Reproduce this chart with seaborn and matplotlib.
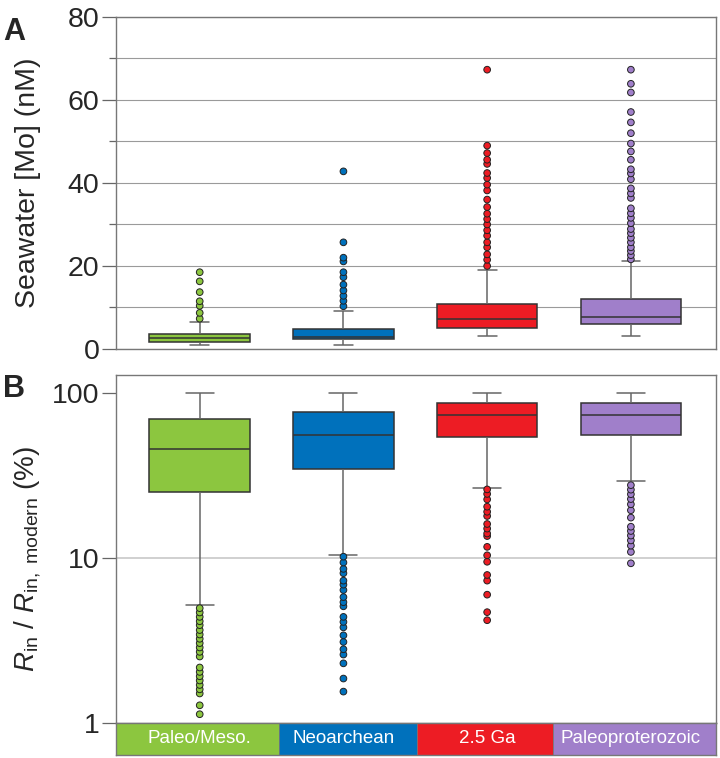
import pandas as pd
import seaborn as sns
import matplotlib.pyplot as plt
from matplotlib.ticker import MultipleLocator, FixedLocator, FuncFormatter, NullLocator

# groups and colours
groups = ["Paleo/Meso.", "Neoarchean", "2.5 Ga", "Paleoproterozoic"]
colors = ["#8cc63f", "#0071bc", "#ed1c24", "#a07fca"]

# --- Panel A: seawater [Mo] (nM), five-number summaries ---
mo_lo = [1.0, 1.0, 3.1, 3.1]
mo_q1 = [1.8, 2.3, 5.1, 6.1]
mo_med = [2.7, 3.0, 7.3, 7.8]
mo_q3 = [3.6, 4.9, 10.8, 12.1]
mo_hi = [6.6, 9.2, 19.1, 21.2]

mo_out_paleo = [7.3, 8.7, 10.4, 11.5, 13.7, 16.3, 18.5]
mo_out_neo = [10.3, 11.6, 12.8, 14.1, 15.5, 17.3, 18.5, 21.1, 22.0, 25.7, 42.8]
mo_out_25 = [20.0, 21.5, 22.8, 24.5, 25.7, 27.3, 28.6, 30.0, 31.3, 32.6, 34.2,
             36.0, 38.2, 39.6, 41.2, 42.4, 44.6, 45.6, 47.2, 49.0, 67.3]
mo_out_pp = [21.6, 22.6, 23.6, 24.5, 25.7, 26.8, 27.9, 28.9, 30.3, 31.6, 32.7,
             33.9, 36.4, 37.5, 38.7, 40.9, 42.3, 43.3, 45.6, 47.6, 49.5, 52.0,
             54.6, 57.1, 61.8, 63.9, 67.3]

# --- Panel B: R_in / R_in,modern (%) ---
rin_lo = [5.2, 10.5, 26.6, 29.2]
rin_q1 = [25.1, 34.7, 54.5, 55.8]
rin_med = [45.7, 56.1, 73.5, 73.5]
rin_q3 = [69.8, 77.3, 87.3, 87.3]
rin_hi = [101, 101, 101, 101]

rin_out_paleo = [1.13, 1.28, 1.51, 1.60, 1.70, 1.81, 1.92, 2.04, 2.17, 2.53, 2.70,
                 2.87, 3.05, 3.24, 3.44, 3.66, 3.92, 4.14, 4.40, 4.68, 4.97]
rin_out_neo = [1.55, 1.86, 2.3, 2.6, 2.8, 3.1, 3.4, 3.8, 4.1, 4.4, 5.1, 5.4,
               5.8, 6.4, 6.9, 7.3, 8.1, 8.6, 9.4, 10.2]
rin_out_25 = [4.2, 4.7, 6.0, 7.3, 7.9, 9.5, 10.4, 11.7, 13.6, 14.1, 15.1, 16.1,
              18.0, 19.1, 20.5, 22.7, 24.5, 26.1]
rin_out_pp = [9.3, 10.9, 11.9, 12.8, 13.7, 14.6, 15.5, 17.6, 19.5, 21.2, 22.8,
              24.4, 26.0, 27.7]


def box_frame(lo, q1, med, q3, hi):
    rows = []
    for g, vals in zip(groups, zip(lo, q1, med, q3, hi)):
        rows += [(g, v) for v in vals]
    return pd.DataFrame(rows, columns=["group", "value"])


def out_frame(outs):
    rows = []
    for g, vals in zip(groups, outs):
        rows += [(g, v) for v in vals]
    return pd.DataFrame(rows, columns=["group", "value"])


mo_box = box_frame(mo_lo, mo_q1, mo_med, mo_q3, mo_hi)
mo_out = out_frame([mo_out_paleo, mo_out_neo, mo_out_25, mo_out_pp])
rin_box = box_frame(rin_lo, rin_q1, rin_med, rin_q3, rin_hi)
rin_out = out_frame([rin_out_paleo, rin_out_neo, rin_out_25, rin_out_pp])

sns.set_style("white")
plt.rcParams["font.family"] = ["Liberation Sans", "DejaVu Sans"]
plt.rcParams["mathtext.fontset"] = "custom"
plt.rcParams["mathtext.rm"] = "Liberation Sans"
plt.rcParams["mathtext.it"] = "Liberation Sans:italic"

fig = plt.figure(figsize=(7.2, 7.58), dpi=100)
axA = fig.add_axes([0.161, 0.5396, 0.833, 0.438])
axB = fig.add_axes([0.161, 0.0462, 0.833, 0.4591])
axC = fig.add_axes([0.161, 0.004, 0.833, 0.0422])

xlim = (-0.583, 3.59)
box_kw = dict(x="group", y="value", hue="group", order=groups, hue_order=groups,
              palette=colors, saturation=1, width=0.7, whis=(0, 100),
              showfliers=False, linecolor="#333333", linewidth=1.1, legend=False,
              whiskerprops={"color": "#666666"}, capprops={"color": "#666666"})
pt_kw = dict(x="group", y="value", hue="group", order=groups, hue_order=groups,
             palette=colors, jitter=False, size=4.8, edgecolor="#222222",
             linewidth=0.7, legend=False, zorder=3)

# panel A
sns.boxplot(data=mo_box, ax=axA, capwidths=0.13, **box_kw)
sns.stripplot(data=mo_out, ax=axA, **pt_kw)
axA.set_ylim(0, 80)
axA.yaxis.set_major_locator(MultipleLocator(20))
axA.yaxis.set_minor_locator(FixedLocator([10, 30, 50, 70]))
axA.set_ylabel("Seawater [Mo] (nM)", fontsize=20.5)
axA.grid(axis="y", which="both", color="#9a9a9a", linewidth=0.8)
axA.set_axisbelow(True)

# panel B
sns.boxplot(data=rin_box, ax=axB, log_scale=True, capwidths=0.195, **box_kw)
sns.stripplot(data=rin_out, ax=axB, log_scale=True, **pt_kw)
axB.set_ylim(1, 129)
axB.yaxis.set_major_locator(FixedLocator([1, 10, 100]))
axB.yaxis.set_major_formatter(FuncFormatter(lambda v, p: f"{v:g}"))
axB.yaxis.set_minor_locator(NullLocator())
axB.axhline(10, color="#c8c8c8", linewidth=1.2, zorder=0)
axB.set_ylabel(r"$R_{\mathrm{in}}$ / $R_{\mathrm{in,\ modern}}$ (%)", fontsize=20)

for ax in (axA, axB):
    ax.set_xlim(xlim)
    ax.set_xticks([])
    ax.set_xlabel("")
    ax.tick_params(axis="y", which="major", direction="out", length=10, width=0.9,
                   color="#666666", labelsize=20.5, pad=2, left=True)
    ax.tick_params(axis="y", which="minor", direction="out", length=5, width=0.9,
                   color="#666666", left=True)
    for s in ax.spines.values():
        s.set_color("#777777")
        s.set_linewidth(1.0)
axA.yaxis.set_label_coords(-0.125, 0.5)
axB.yaxis.set_label_coords(-0.122, 0.47)

# category band
edges = [xlim[0], 0.55, 1.51, 2.46, xlim[1]]
for i, (g, c) in enumerate(zip(groups, colors)):
    axC.axvspan(edges[i], edges[i + 1], color=c, lw=0)
    axC.text(i, 0.5, g, color="white", ha="center", va="center", fontsize=13.5)
    if i > 0:
        axC.axvline(edges[i], color="#777777", lw=0.6)
axC.set_xlim(xlim)
axC.set_ylim(0, 1)
axC.set_xticks([])
axC.set_yticks([])
for s in axC.spines.values():
    s.set_color("#777777")
    s.set_linewidth(1.0)

fig.text(0.004, 0.9775, "A", fontsize=22, fontweight="bold", va="top")
fig.text(0.004, 0.506, "B", fontsize=22, fontweight="bold", va="top")

fig.savefig("out.png", dpi=100)
